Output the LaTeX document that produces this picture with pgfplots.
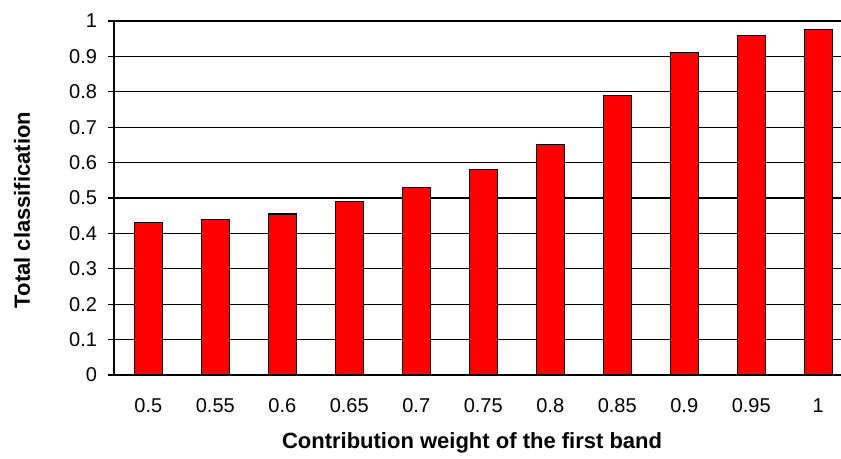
\documentclass[border=0pt]{standalone}
\usepackage{pgfplots}
\pgfplotsset{compat=1.18}
\usepackage{fontspec}
\setmainfont{Liberation Sans}
\begin{document}
\begin{tikzpicture}
\begin{axis}[
  at={(0,0)}, anchor=south west,
  scale only axis,
  width=363.5pt, height=177pt,
  xmin=-0.512, xmax=10.34,
  ymin=0, ymax=1,
  ybar, bar width=14pt,
  axis x line*=bottom, axis y line*=left,
  axis line style={black, line width=0.6pt, -},
  xtick={0,1,2,3,4,5,6,7,8,9,10},
  xticklabels={0.5,0.55,0.6,0.65,0.7,0.75,0.8,0.85,0.9,0.95,1},
  x tick style={draw=none},
  ytick={0,0.1,0.2,0.3,0.4,0.5,0.6,0.7,0.8,0.9,1},
  yticklabels={0,0.1,0.2,0.3,0.4,0.5,0.6,0.7,0.8,0.9,1},
  y tick style={black, line width=0.6pt},
  tick align=outside, major tick length=3pt,
  ymajorgrids, grid style={black, line width=0.6pt},
  tick label style={font=\fontsize{10}{12}\selectfont},
  xticklabel style={yshift=-5pt, text height=7.2pt, text depth=0pt},
  yticklabel style={xshift=-2pt},
  /pgf/number format/assume math mode=true,
  xlabel={Contribution weight of the first band},
  ylabel={Total classification},
  xlabel style={font=\bfseries\fontsize{11}{13}\selectfont, at={(axis description cs:0.4925,-0.192)}, anchor=center},
  ylabel style={font=\bfseries\fontsize{11}{13}\selectfont, at={(axis description cs:-0.1265,0.466)}, anchor=center},
  clip=false,
]
\addplot[fill=red, draw=black, line width=0.6pt] coordinates {
(0,0.43) (1,0.44) (2,0.455) (3,0.49) (4,0.53) (5,0.58) (6,0.65) (7,0.79) (8,0.91) (9,0.96) (10,0.975)
};
\end{axis}
\pgfresetboundingbox
\path[use as bounding box] (-57pt,-42pt) rectangle (363.5pt,187.5pt);
\end{tikzpicture}
\end{document}
